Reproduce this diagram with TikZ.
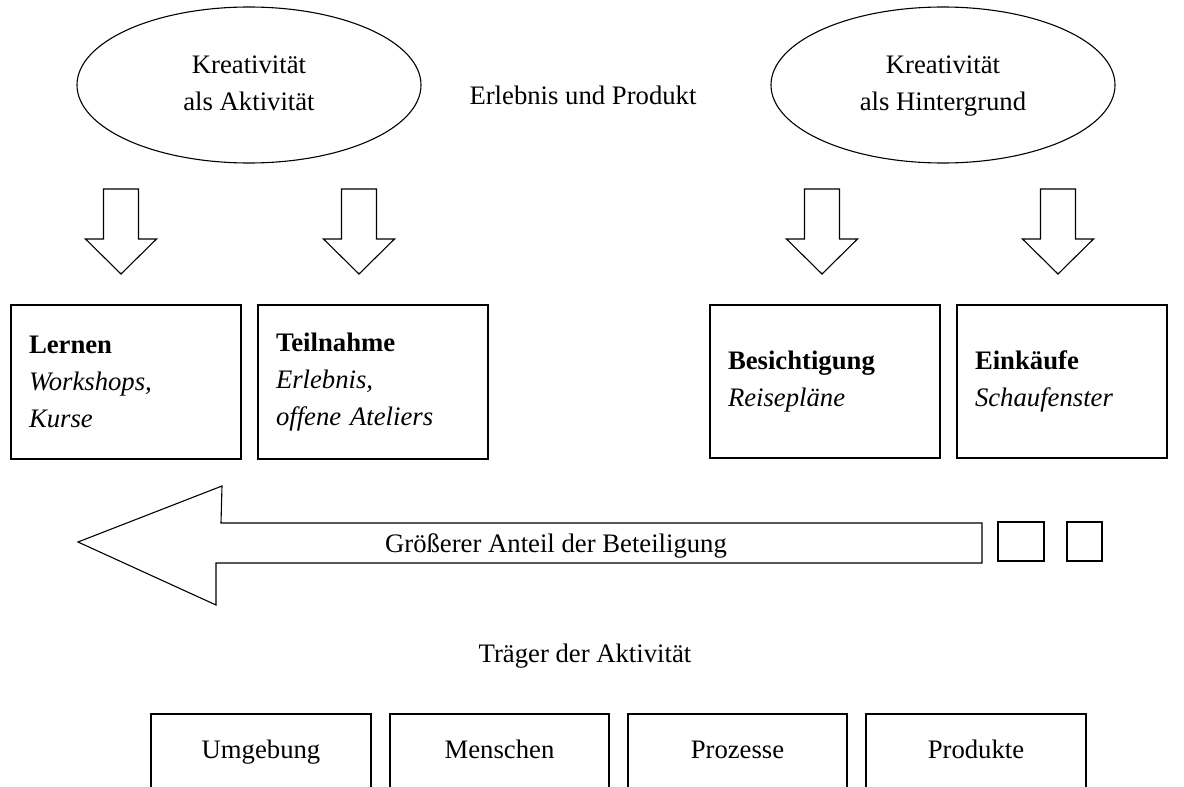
\documentclass[tikz,border=0pt]{standalone}
\usepackage{fontspec}
\setmainfont{Liberation Serif}
\usetikzlibrary{shapes.geometric}
\tikzset{
  every node/.style={font=\fontsize{26.7}{37}\selectfont},
  outline/.style={draw=black, line width=1.1pt},
  oval/.style={outline, ellipse, minimum width=344pt, minimum height=156pt, align=center, inner sep=0pt},
  catbox/.style={outline, rectangle, minimum width=230pt, minimum height=154pt, text width=194pt, inner xsep=18pt, align=left},
  carrier/.style={outline, rectangle, minimum width=219pt, minimum height=76pt, text height=18pt, text depth=6pt, align=center},
  square/.style={outline, rectangle, inner sep=0pt},
  plain/.style={inner sep=0pt}
}
\begin{document}
\begin{tikzpicture}[x=1pt,y=-1pt]
\useasboundingbox (0,0) rectangle (1184,787);
\clip (0,0) rectangle (1184,787);

% ellipses
\node[oval] (act) at (249,85) {\strut Kreativität\\als Aktivität\strut};
\node[oval] (bg) at (943,85) {\strut Kreativität\\als Hintergrund\strut};
\node[plain] (erl) at (583,95) {Erlebnis und Produkt};

% down arrows
\foreach \c/\n in {121/a1, 359/a2, 822/a3, 1058/a4}{
  \draw[outline, line join=miter] (\c-17.5,189) -- (\c+17.5,189) -- (\c+17.5,239) -- (\c+35.5,239)
     -- (\c,274) -- (\c-35.5,239) -- (\c-17.5,239) -- cycle;
}

% category boxes
\node[catbox] (lernen) at (126,382) {\textbf{Lernen}\\\textit{Workshops,}\\\textit{Kurse}};
\node[catbox] (teil) at (373,382) {\textbf{Teilnahme}\\\textit{Erlebnis,}\\\textit{offene Ateliers}};
\node[catbox, minimum height=153pt] (besi) at (825,381.5) {\textbf{Besichtigung}\\\textit{Reisepläne}};
\node[catbox, minimum width=210pt, text width=174pt, minimum height=153pt] (eink) at (1062,381.5) {\textbf{Einkäufe}\\\textit{Schaufenster}};

% big left arrow
\draw[outline, line join=miter] (78,542) -- (222,486) -- (221,523) -- (982,523) -- (982,563)
  -- (216,563) -- (216,605) -- cycle;
\node[plain] (anteil) at (556,546) {Größerer Anteil der Beteiligung};

% small squares
\node[square, minimum width=46pt, minimum height=39pt] (sq1) at (1021,541.5) {};
\node[square, minimum width=35pt, minimum height=39pt] (sq2) at (1084.5,541.5) {};

\node[plain] (traeger) at (585,656) {Träger der Aktivität};

% carrier boxes (cut off at the bottom)
\node[carrier, minimum width=220pt] (umg) at (261,752) {Umgebung};
\node[carrier] (men) at (499.5,752) {Menschen};
\node[carrier] (pro) at (737.5,752) {Prozesse};
\node[carrier, minimum width=220pt] (prd) at (976,752) {Produkte};
\end{tikzpicture}
\end{document}
